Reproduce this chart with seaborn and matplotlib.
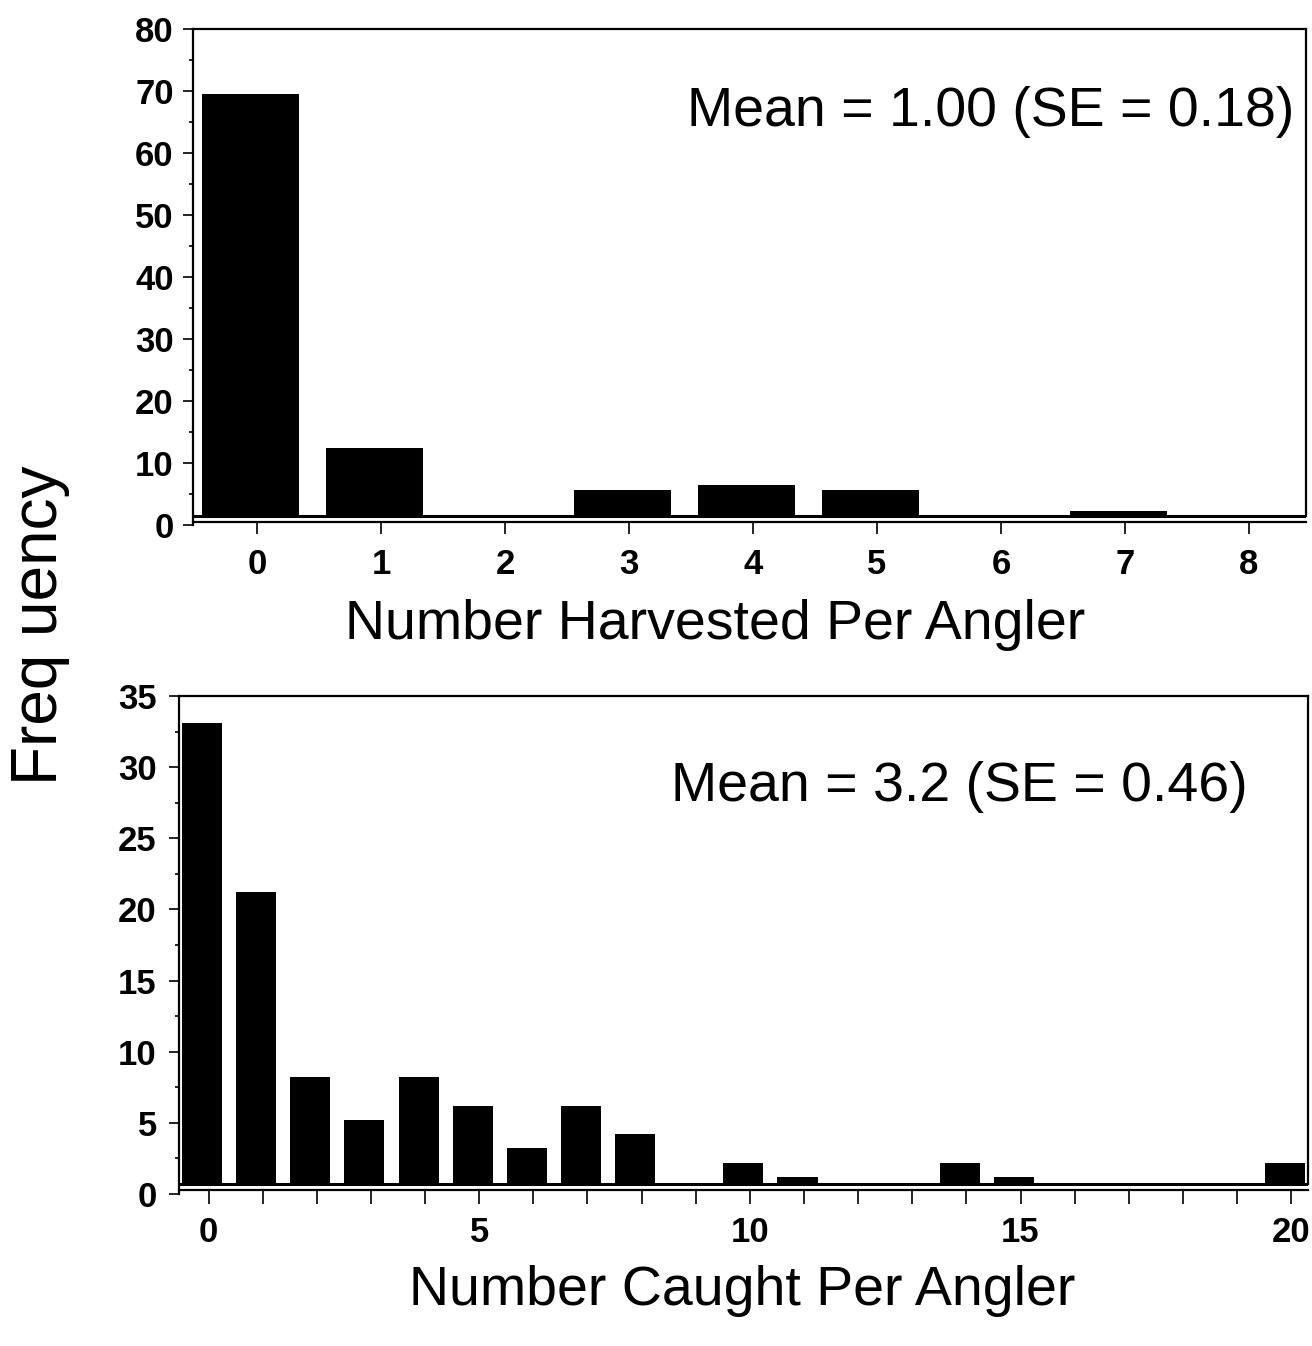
import matplotlib.pyplot as plt
import seaborn as sns
import pandas as pd
from matplotlib.ticker import MultipleLocator

# top panel: harvest per angler
harvest_bins = [0, 1, 2, 3, 4, 5, 6, 7, 8]
harvest_freq = [69.5, 12.4, 0, 5.6, 6.4, 5.6, 0, 2.3, 0]
harvest_note = "Mean = 1.00 (SE = 0.18)"
harvest_xlabel = "Number Harvested Per Angler"

# bottom panel: catch per angler
caught_bins = [0, 1, 2, 3, 4, 5, 6, 7, 8, 9, 10, 11, 12, 13, 14, 15, 16, 17, 18, 19, 20]
caught_freq = [33.1, 21.2, 8.2, 5.2, 8.2, 6.2, 3.2, 6.2, 4.2, 0, 2.2, 1.2, 0, 0,
               2.2, 1.2, 0, 0, 0, 0, 2.2]
caught_labels = ["0", "", "", "", "", "5", "", "", "", "", "10", "", "", "", "",
                 "15", "", "", "", "", "20"]
caught_note = "Mean = 3.2 (SE = 0.46)"
caught_xlabel = "Number Caught Per Angler"

ylabel = "Freq uency"

sns.set_style("ticks")
plt.rcParams['font.family'] = ['Liberation Sans', 'DejaVu Sans']
plt.rcParams['font.weight'] = 'bold'
plt.rcParams['text.color'] = 'black'

W, H = 1312, 1346
fig = plt.figure(figsize=(W / 100, H / 100), dpi=100)


def px_axes(left, right, top, bottom):
    return fig.add_axes([left / W, 1 - bottom / H, (right - left) / W, (bottom - top) / H])


def hist_panel(ax, bins, freq, width, shift, base, axis_y, ymax, ystep, yminor,
               xlim, xtick_len, xpad, ypad):
    df = pd.DataFrame({'n': bins, 'freq': freq})
    sns.barplot(data=df, x='n', y='freq', color='black', width=width,
                linewidth=0, saturation=1, ax=ax)
    # bars sit on the inner frame line, a bit left of the ticks
    for p in ax.patches:
        top = p.get_height()
        p.set_x(p.get_x() + shift)
        p.set_y(base)
        p.set_height(max(top - base, 0))
    ax.axhline(base, color='black', lw=2.2, zorder=3)

    ax.set_xlim(*xlim)
    ax.set_ylim(0, ymax)
    ax.set_xlabel('')
    ax.set_ylabel('')
    ax.set_yticks(range(0, ymax + 1, ystep))
    ax.yaxis.set_minor_locator(MultipleLocator(yminor))

    for side in ['top', 'right', 'left', 'bottom']:
        ax.spines[side].set_visible(True)
        ax.spines[side].set_color('black')
        ax.spines[side].set_linewidth(1.6)
    ax.spines['right'].set_bounds(base, ymax)
    ax.spines['bottom'].set_position(('data', axis_y))

    ax.tick_params(axis='y', which='major', length=7, width=1.2, pad=ypad,
                   labelsize=25, colors='black')
    ax.tick_params(axis='y', which='minor', length=3, width=1.2, colors='black')
    ax.tick_params(axis='x', which='major', length=xtick_len, width=1.2, pad=xpad,
                   labelsize=25, colors='black')


# top panel
ax1 = px_axes(193, 1306, 29, 525)
hist_panel(ax1, harvest_bins, harvest_freq, width=0.78, shift=-0.05, base=1.45,
           axis_y=0.45, ymax=80, ystep=10, yminor=5, xlim=(-0.516, 8.46),
           xtick_len=8.6, xpad=10, ypad=7)
ax1.text(0.99, 0.833, harvest_note, transform=ax1.transAxes, ha='right', va='center',
         fontsize=40, fontweight='normal', color='black')

# bottom panel
ax2 = px_axes(179, 1308, 696, 1194)
hist_panel(ax2, caught_bins, caught_freq, width=0.74, shift=-0.12, base=0.7,
           axis_y=0.28, ymax=35, ystep=5, yminor=2.5, xlim=(-0.545, 20.31),
           xtick_len=10, xpad=9, ypad=9)
ax2.set_xticks(range(len(caught_bins)))
ax2.set_xticklabels(caught_labels)
ax2.text(0.947, 0.817, caught_note, transform=ax2.transAxes, ha='right', va='center',
         fontsize=40, fontweight='normal', color='black')

fig.text(715 / W, 1 - 625 / H, harvest_xlabel, ha='center', va='center',
         fontsize=40, fontweight='normal', color='black')
fig.text(742 / W, 1 - 1291 / H, caught_xlabel, ha='center', va='center',
         fontsize=40, fontweight='normal', color='black')
fig.text(40 / W, 1 - 625 / H, ylabel, ha='center', va='center', rotation=90,
         fontsize=46, fontweight='normal', color='black')

fig.savefig('out.png', dpi=100)
